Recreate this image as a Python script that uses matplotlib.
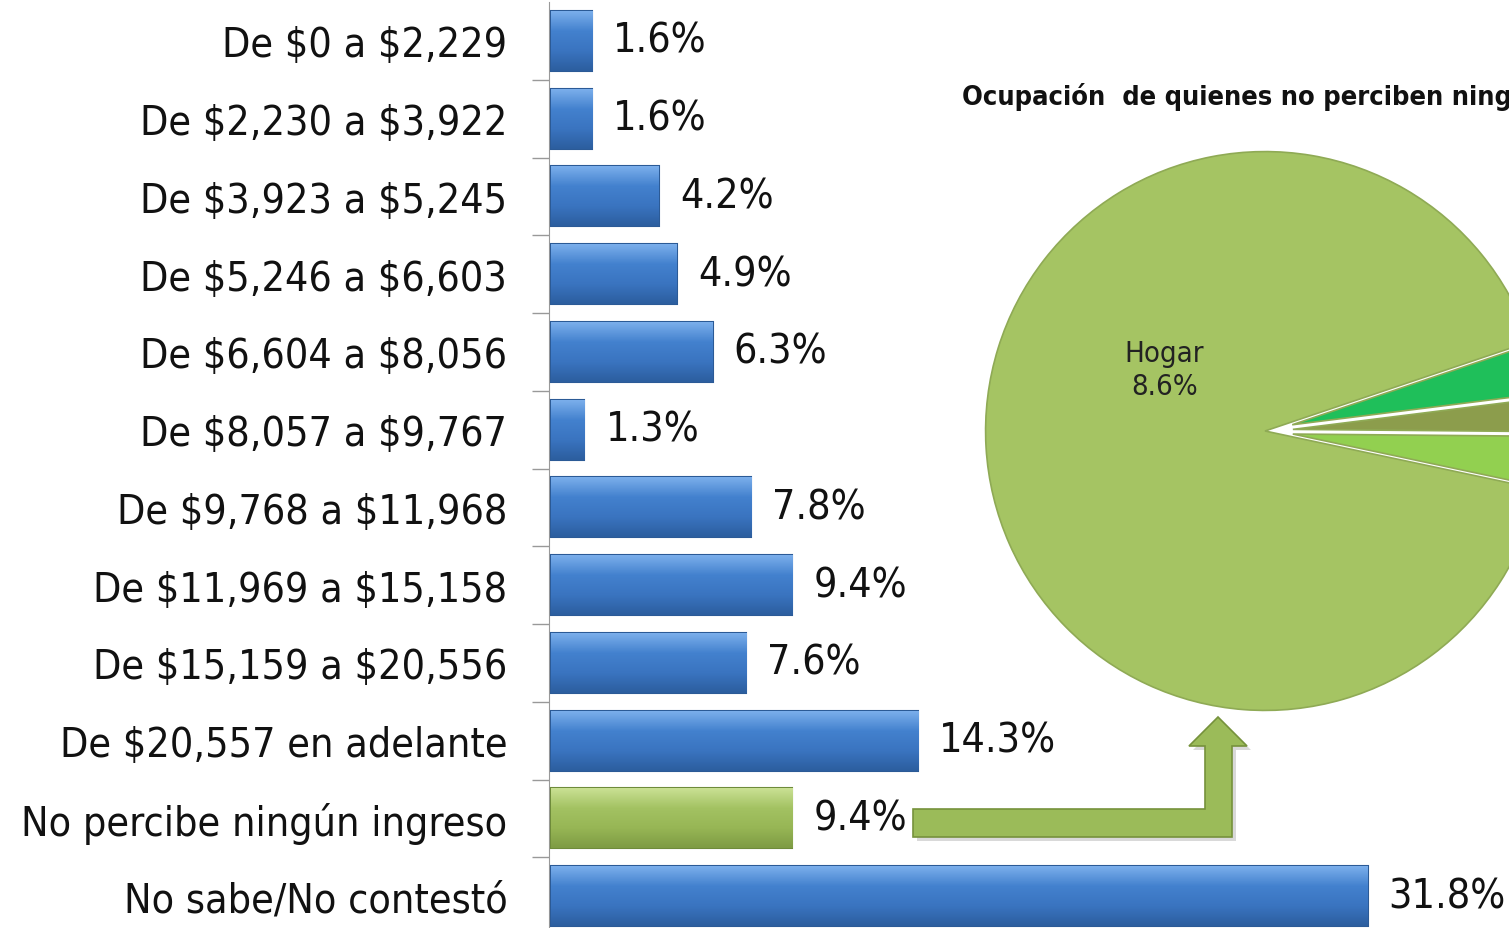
import matplotlib
matplotlib.use("Agg")
import matplotlib.pyplot as plt
import numpy as np
from matplotlib.patches import Polygon
from matplotlib.colors import LinearSegmentedColormap

plt.rcParams['font.family'] = ['DejaVu Sans']
plt.rcParams['font.stretch'] = 'condensed'
plt.rcParams['text.parse_math'] = False

# income ranges and percentages
categories = ["De $0 a $2,229", "De $2,230 a $3,922", "De $3,923 a $5,245",
              "De $5,246 a $6,603", "De $6,604 a $8,056", "De $8,057 a $9,767",
              "De $9,768 a $11,968", "De $11,969 a $15,158", "De $15,159 a $20,556",
              "De $20,557 en adelante", "No percibe ningún ingreso", "No sabe/No contestó"]
values = [1.6, 1.6, 4.2, 4.9, 6.3, 1.3, 7.8, 9.4, 7.6, 14.3, 9.4, 31.8]
highlight = "No percibe ningún ingreso"

# occupation of those without income (pie)
pie_labels = ["", "", "", "Hogar"]
pie_values = [0.3, 0.2, 0.3, 8.6]
pie_colors = ["#92D050", "#8C9D4C", "#1FBF5A", "#A5C463"]
pie_title = "Ocupación  de quienes no perciben ningún ingreso"

W, H = 1509, 929
fig = plt.figure(figsize=(W / 100, H / 100), dpi=100)

blue_cm = LinearSegmentedColormap.from_list("b", ["#7AAEEB", "#4381CE", "#3A74C0", "#2C5E9F"])
green_cm = LinearSegmentedColormap.from_list("g", ["#C9E093", "#A3C262", "#97B655", "#7E9C44"])

# bar chart
ax = fig.add_axes([549 / W, -7 / H, 950 / W, 933 / H])
ypos = list(range(len(categories)))
colors = ["#9BBB59" if c == highlight else "#3E7BC8" for c in categories]
edges = ["#6E8B3A" if c == highlight else "#2B5A96" for c in categories]
bars = ax.barh(ypos, values, height=0.77, left=0.08, color=colors, edgecolor=edges,
               linewidth=1.5, zorder=3)
grad = np.linspace(1, 0, 64).reshape(-1, 1)
for b, c in zip(bars, categories):
    x0, y0 = b.get_x(), b.get_y()
    cm = green_cm if c == highlight else blue_cm
    im = ax.imshow(grad, cmap=cm, aspect="auto", zorder=3.5,
                   extent=(x0, x0 + b.get_width(), y0, y0 + b.get_height()))
    im.set_clip_path(b)
for y, v in zip(ypos, values):
    ax.text(v + 0.9, y, f"{v}%", va="center", ha="left", fontsize=29.5, color="#111111", zorder=5)

ax.set_xlim(0, 37)
ax.set_ylim(len(categories) - 0.5, -0.5)
ax.set_yticks(ypos)
ax.set_yticklabels(categories, fontsize=29.5, color="#111111")
ax.set_yticks([y + 0.5 for y in ypos[:-1]], minor=True)
ax.tick_params(axis="y", which="major", length=0, pad=30)
ax.tick_params(axis="y", which="minor", length=12, width=1, color="#999999", direction="out")
ax.set_xticks([])
for s in ["top", "right", "bottom"]:
    ax.spines[s].set_visible(False)
ax.spines["left"].set_color("#999999")
ax.patch.set_alpha(0)

# overlay in pixel coordinates for the connecting arrow and title
ov = fig.add_axes([0, 0, 1, 1])
ov.set_xlim(0, W)
ov.set_ylim(H, 0)
ov.axis("off")
ov.patch.set_alpha(0)
arrow = [(913, 810), (1205, 810), (1205, 747), (1189, 747), (1218, 718),
         (1247, 747), (1232, 747), (1232, 838), (913, 838)]
shadow = [(x + 4, y + 4) for x, y in arrow]
ov.add_patch(Polygon(shadow, closed=True, facecolor="#000000", alpha=0.15, edgecolor="none"))
ov.add_patch(Polygon(arrow, closed=True, facecolor="#9BBB59", edgecolor="#76923C", linewidth=1.2))
ov.text(962, 97, pie_title, fontsize=19.5, fontweight="bold",
        va="center", ha="left", color="#111111")

# pie chart
pax = fig.add_axes([980 / W, (H - 432 - 285) / H, 570 / W, 570 / H])
wedges, _ = pax.pie(pie_values, colors=pie_colors, startangle=-12, counterclock=True,
                    explode=[0.1, 0.1, 0.1, 0.0], radius=1.0,
                    wedgeprops=dict(edgecolor="#8FAA55", linewidth=1.2))
pax.set_xlim(-1.02, 1.02)
pax.set_ylim(-1.02, 1.02)
pax.set_aspect("equal")
pax.text(-0.36, 0.22, "Hogar\n8.6%", ha="center", va="center", fontsize=21,
         color="#222222", linespacing=1.25)

fig.savefig("out.png", dpi=100)
